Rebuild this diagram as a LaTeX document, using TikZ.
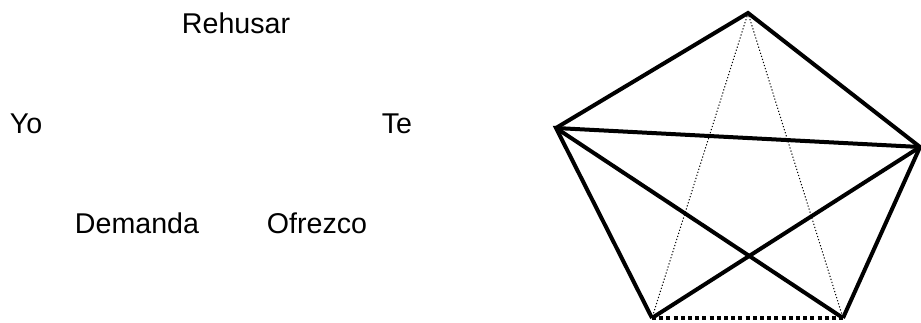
\documentclass[tikz,border=0pt]{standalone}
\usepackage{fontspec}
\setmainfont{Liberation Sans}
\usepackage{tikz}

\begin{document}
\begin{tikzpicture}[x=0.5pt, y=-0.5pt,
  every node/.style={inner sep=0pt, anchor=base, font=\fontsize{14.3}{17}\selectfont},
  edge/.style={line width=2pt, line join=miter},
  thinlink/.style={line width=0.5pt, dash pattern=on 0.6pt off 1pt},
  baselink/.style={line width=2pt, dash pattern=on 2pt off 1.6pt}]
  \useasboundingbox (0,0) rectangle (921,322);
  % labels
  \node (rehusar) at (236,33) {Rehusar};
  \node (yo) at (26,133) {Yo};
  \node (te) at (397,133) {Te};
  \node (demanda) at (137,233) {Demanda};
  \node (ofrezco) at (317,233) {Ofrezco};
  % pentagon
  \coordinate (T) at (748,13);
  \coordinate (L) at (556,128);
  \coordinate (R) at (920,147);
  \coordinate (BL) at (652,318);
  \coordinate (BR) at (843,318);
  \draw[edge] (L) -- (T) -- (R);
  \draw[edge] (BL) -- (L) -- (R) -- (BR);
  \draw[edge] (L) -- (BR);
  \draw[edge] (R) -- (BL);
  \draw[thinlink] (T) -- (BL);
  \draw[thinlink] (T) -- (BR);
  \draw[baselink] (BL) -- (BR);
\end{tikzpicture}
\end{document}
